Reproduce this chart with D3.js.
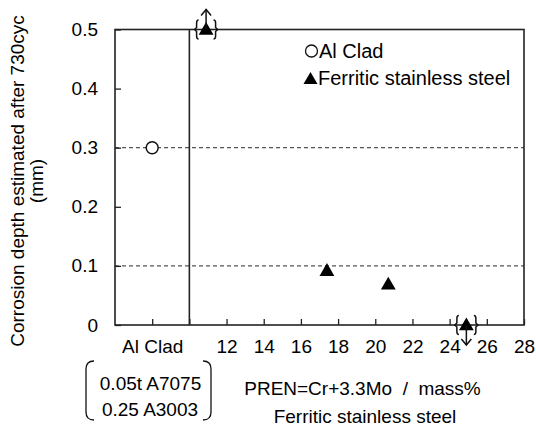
<!DOCTYPE html>
<html>
<head>
<meta charset="utf-8">
<script src="https://cdn.jsdelivr.net/npm/d3@7"></script>
<style>
  body { margin: 0; background: #fff; }
  text { font-family: "Liberation Sans", Arial, sans-serif; fill: #000; }
</style>
</head>
<body>
<svg id="chart" width="536" height="426"></svg>
<script>
// data
const alCladX = [8];
const alCladY = [0.3];
const fssX = [10.9, 17.4, 20.7, 24.9];
const fssY = [0.5, 0.092, 0.069, 0];
const fssArrow = ['up', null, null, 'down'];   // off-scale markers
const xTicks = [8, 10, 12, 14, 16, 18, 20, 22, 24, 26, 28];
const xTickLabels = ['Al Clad', '', '12', '14', '16', '18', '20', '22', '24', '26', '28'];
const yTicks = [0, 0.1, 0.2, 0.3, 0.4, 0.5];
const yTickLabels = ['0', '0.1', '0.2', '0.3', '0.4', '0.5'];
const gridY = [0.1, 0.3];
const dividerX = 10;

const svg = d3.select('#chart');
const plotL = 115, plotR = 524, plotT = 29.5, plotB = 325;
const fs = '19px';

const x = d3.scaleLinear().domain([6, 28]).range([plotL, plotR]);
const y = d3.scaleLinear().domain([0, 0.5]).range([plotB, plotT]);

// dashed grid
svg.selectAll('line.grid')
  .data(gridY)
  .enter()
  .append('line')
  .attr('x1', plotL).attr('x2', plotR)
  .attr('y1', (d) => y(d)).attr('y2', (d) => y(d))
  .attr('stroke', '#555').attr('stroke-width', 1.2)
  .attr('stroke-dasharray', '4,3');

// plot frame
svg.append('rect')
  .attr('x', plotL).attr('y', plotT)
  .attr('width', plotR - plotL).attr('height', plotB - plotT)
  .attr('fill', 'none').attr('stroke', '#222').attr('stroke-width', 1.6);

// divider between Al clad and stainless
svg.append('line')
  .attr('x1', x(dividerX)).attr('x2', x(dividerX))
  .attr('y1', plotT).attr('y2', plotB)
  .attr('stroke', '#222').attr('stroke-width', 1.6);

// axes with inward ticks
const xAxis = d3.axisBottom(x)
  .tickValues(xTicks)
  .tickSizeInner(-6).tickSizeOuter(0).tickPadding(15)
  .tickFormat((d, i) => xTickLabels[i]);
const gx = svg.append('g').attr('transform', `translate(0,${plotB})`).call(xAxis);
gx.select('.domain').remove();
gx.selectAll('line').attr('stroke', '#222').attr('stroke-width', 1.3);
gx.selectAll('text').style('font-size', fs);

const yAxis = d3.axisLeft(y)
  .tickValues(yTicks)
  .tickSizeInner(-6).tickSizeOuter(0).tickPadding(17)
  .tickFormat((d, i) => yTickLabels[i]);
const gy = svg.append('g').attr('transform', `translate(${plotL},0)`).call(yAxis);
gy.select('.domain').remove();
gy.selectAll('line').attr('stroke', '#222').attr('stroke-width', 1.3);
gy.selectAll('text').style('font-size', fs);

// y title
const yTitle = svg.append('text')
  .attr('transform', 'translate(24,181) rotate(-90)')
  .attr('text-anchor', 'middle')
  .style('font-size', fs);
yTitle.append('tspan').attr('x', 0).attr('dy', 0).text('Corrosion depth estimated after 730cyc');
yTitle.append('tspan').attr('x', 0).attr('dy', 19).text('(mm)');

// markers
const tri = d3.symbol().type(d3.symbolTriangle).size(95);
const fssData = fssX.map((d, i) => ({ x: d, y: fssY[i], arrow: fssArrow[i] }));

svg.selectAll('circle.al')
  .data(alCladX)
  .enter()
  .append('circle')
  .attr('cx', (d) => x(d))
  .attr('cy', (d, i) => y(alCladY[i]))
  .attr('r', 6)
  .attr('fill', '#fff').attr('stroke', '#111').attr('stroke-width', 1.5);

svg.selectAll('path.fss')
  .data(fssData)
  .enter()
  .append('path')
  .attr('d', tri)
  .attr('transform', (d) => `translate(${x(d.x)},${y(d.y) + 1})`)
  .attr('fill', '#000');

// brackets and arrows for the off-scale points
const bracket = (cx, cy, side) => {
  const h = 9.5, s = side;
  const bx = cx + s * 9.5;
  return `M${bx - s * 2},${cy - h} Q${bx},${cy - h} ${bx},${cy - h + 3} L${bx},${cy - 2} L${bx + s * 2},${cy} L${bx},${cy + 2} L${bx},${cy + h - 3} Q${bx},${cy + h} ${bx - s * 2},${cy + h}`;
};
const arrowed = fssData.filter((d) => d.arrow);
arrowed.forEach((d) => {
  const cx = x(d.x), cy = y(d.y);
  [-1, 1].forEach((s) => {
    svg.append('path').attr('d', bracket(cx, cy, s))
      .attr('fill', 'none').attr('stroke', '#111').attr('stroke-width', 1.5);
  });
  const dir = d.arrow === 'up' ? -1 : 1;
  const y0 = cy, y1 = cy + dir * 20;
  svg.append('line')
    .attr('x1', cx).attr('x2', cx).attr('y1', y0).attr('y2', y1)
    .attr('stroke', '#111').attr('stroke-width', 1.5);
  svg.append('path')
    .attr('d', `M${cx - 5},${y1 - dir * 6} L${cx},${y1} L${cx + 5},${y1 - dir * 6}`)
    .attr('fill', 'none').attr('stroke', '#111').attr('stroke-width', 1.5);
});

// legend
const legend = svg.append('g');
legend.append('circle').attr('cx', 311.5).attr('cy', 51).attr('r', 6)
  .attr('fill', '#fff').attr('stroke', '#111').attr('stroke-width', 1.3);
legend.append('text').attr('x', 319).attr('y', 58).style('font-size', '20px').text('Al Clad');
legend.append('path').attr('d', d3.symbol().type(d3.symbolTriangle).size(85))
  .attr('transform', 'translate(310.5,80)').attr('fill', '#000');
legend.append('text').attr('x', 318).attr('y', 85).style('font-size', '20px').text('Ferritic stainless steel');

// bottom notes
const note = svg.append('g');
note.append('text').attr('x', 150.5).attr('y', 390).attr('text-anchor', 'middle')
  .style('font-size', fs).text('0.05t A7075');
note.append('text').attr('x', 150).attr('y', 416).attr('text-anchor', 'middle')
  .style('font-size', fs).text('0.25 A3003');
note.append('path').attr('d', 'M94,361 Q86,361 86,369 L86,412 Q86,420 94,420')
  .attr('fill', 'none').attr('stroke', '#111').attr('stroke-width', 1.3);
note.append('path').attr('d', 'M203,361 Q211,361 211,369 L211,412 Q211,420 203,420')
  .attr('fill', 'none').attr('stroke', '#111').attr('stroke-width', 1.3);
note.append('text').attr('x', 362.5).attr('y', 395).attr('text-anchor', 'middle')
  .style('font-size', fs).style('white-space', 'pre').text('PREN=Cr+3.3Mo  /  mass%');
note.append('text').attr('x', 365).attr('y', 423).attr('text-anchor', 'middle')
  .style('font-size', fs).text('Ferritic stainless steel');
</script>
</body>
</html>
